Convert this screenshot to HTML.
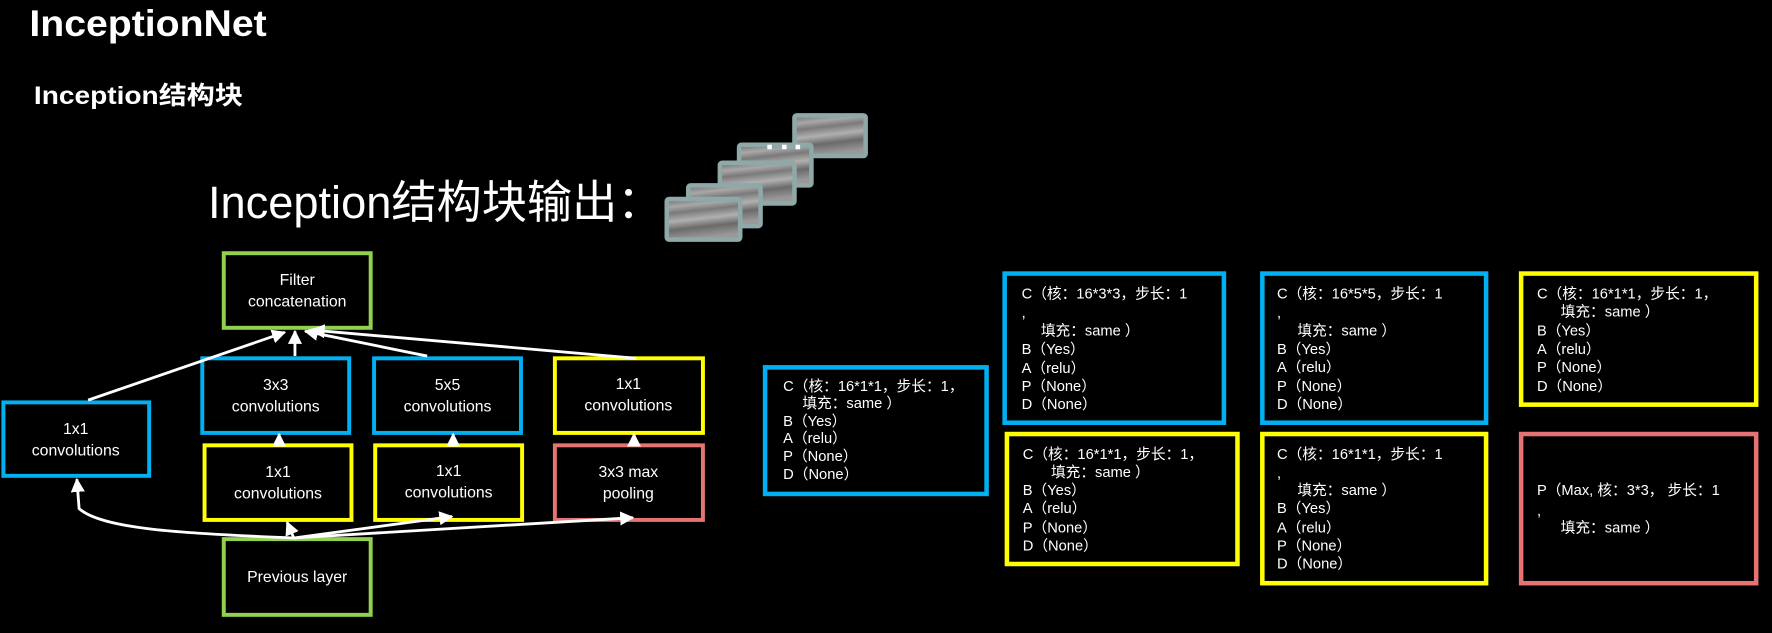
<!DOCTYPE html>
<html><head><meta charset="utf-8"><style>
html,body{margin:0;padding:0;background:#000;}
svg{display:block}
text{font-family:"Liberation Sans","Noto Sans CJK SC",sans-serif;fill:#fff}
</style></head><body>
<svg width="1772" height="633" viewBox="0 0 1568 560" xmlns="http://www.w3.org/2000/svg">
<defs>
<linearGradient id="g" x1="0" y1="0" x2="0.2" y2="1">
<stop offset="0" stop-color="#6e6e6e"/><stop offset="0.2" stop-color="#a8a8a8"/><stop offset="0.35" stop-color="#7a7a7a"/><stop offset="0.55" stop-color="#b0b0b0"/><stop offset="0.75" stop-color="#6a6a6a"/><stop offset="1" stop-color="#999"/>
</linearGradient>
<marker id="ah" viewBox="0 0 10 10" refX="9" refY="5" markerWidth="5" markerHeight="5" orient="auto"><path d="M0,0 L10,5 L0,10 z" fill="#fff"/></marker>
</defs>
<rect width="1568" height="560" fill="#000"/>
<text x="26" y="32" font-size="33" font-weight="bold" textLength="210" lengthAdjust="spacingAndGlyphs">InceptionNet</text>
<text x="30" y="92" font-size="22" font-weight="bold" textLength="185" lengthAdjust="spacingAndGlyphs">Inception结构块</text>
<text x="184" y="193" font-size="40">Inception结构块输出：</text>

<g stroke="#8fa8a8" stroke-width="4" fill="url(#g)">
<rect x="703" y="102" width="63" height="36" rx="2"/>
<rect x="654" y="128" width="64" height="36" rx="2"/>
<rect x="637" y="144" width="66" height="36" rx="2"/>
<rect x="609" y="164" width="64" height="36" rx="2"/>
<rect x="590" y="176" width="65" height="36" rx="2"/>
</g>
<g fill="#fff"><rect x="679" y="128" width="4" height="4"/><rect x="692" y="128" width="4" height="4"/><rect x="704" y="128" width="4" height="4"/></g>

<g fill="none" stroke-width="3.5">
<rect x="198" y="224" width="130" height="66" stroke="#92d050"/>
<rect x="3" y="356" width="129" height="65" stroke="#00b0f0"/>
<rect x="179" y="317" width="130" height="66" stroke="#00b0f0"/>
<rect x="331" y="317" width="130" height="66" stroke="#00b0f0"/>
<rect x="491" y="317" width="131" height="66" stroke="#ffff00"/>
<rect x="181" y="394" width="130" height="66" stroke="#ffff00"/>
<rect x="332" y="394" width="130" height="66" stroke="#ffff00"/>
<rect x="491" y="394" width="131" height="66" stroke="#e57373"/>
<rect x="198" y="477" width="130" height="67" stroke="#92d050"/>
</g>
<g font-size="14" text-anchor="middle">
<text x="263" y="252">Filter</text><text x="263" y="271">concatenation</text>
<text x="67" y="384">1x1</text><text x="67" y="403">convolutions</text>
<text x="244" y="345">3x3</text><text x="244" y="364">convolutions</text>
<text x="396" y="345">5x5</text><text x="396" y="364">convolutions</text>
<text x="556" y="344">1x1</text><text x="556" y="363">convolutions</text>
<text x="246" y="422">1x1</text><text x="246" y="441">convolutions</text>
<text x="397" y="421">1x1</text><text x="397" y="440">convolutions</text>
<text x="556" y="422">3x3 max</text><text x="556" y="441">pooling</text>
<text x="263" y="515">Previous layer</text>
</g>
<g stroke="#fff" stroke-width="2.5" fill="none" marker-end="url(#ah)">
<path d="M78,354 L252,294"/>
<path d="M261,315 L261,293"/>
<path d="M378,315 L270,293"/>
<path d="M563,317 L276,292"/>
<path d="M247,394 L247,384"/>
<path d="M401,394 L401,384"/>
<path d="M561,394 L561,384"/>
<path d="M260,476 C160,472 90,468 70,450 L68,424"/>
<path d="M260,476 L254,462"/>
<path d="M260,476 L400,457"/>
<path d="M260,476 L560,458"/>
</g>

<g fill="none" stroke-width="4">
<rect x="677" y="325" width="196" height="112" stroke="#00b0f0"/>
<rect x="889" y="242" width="194" height="132" stroke="#00b0f0"/>
<rect x="1117" y="242" width="198" height="132" stroke="#00b0f0"/>
<rect x="1346" y="242" width="208" height="116" stroke="#ffff00"/>
<rect x="891" y="384" width="204" height="115" stroke="#ffff00"/>
<rect x="1117" y="384" width="198" height="132" stroke="#ffff00"/>
<rect x="1346" y="384" width="208" height="132" stroke="#e57373"/>
</g>
<g font-size="13">
<text x="693" y="346">C（核：16*1*1，步长：1，</text>
<text x="710" y="361">填充：same ）</text>
<text x="693" y="377">B（Yes）</text><text x="693" y="392">A（relu）</text><text x="693" y="408">P（None）</text><text x="693" y="424">D（None）</text>

<text x="904" y="264">C（核：16*3*3，步长：1</text>
<text x="904" y="281">,</text>
<text x="921" y="297">填充：same ）</text>
<text x="904" y="313">B（Yes）</text><text x="904" y="330">A（relu）</text><text x="904" y="346">P（None）</text><text x="904" y="362">D（None）</text>

<text x="1130" y="264">C（核：16*5*5，步长：1</text>
<text x="1130" y="281">,</text>
<text x="1148" y="297">填充：same ）</text>
<text x="1130" y="313">B（Yes）</text><text x="1130" y="329">A（relu）</text><text x="1130" y="346">P（None）</text><text x="1130" y="362">D（None）</text>

<text x="1360" y="264">C（核：16*1*1，步长：1，</text>
<text x="1381" y="280">填充：same ）</text>
<text x="1360" y="297">B（Yes）</text><text x="1360" y="313">A（relu）</text><text x="1360" y="329">P（None）</text><text x="1360" y="346">D（None）</text>

<text x="905" y="406">C（核：16*1*1，步长：1，</text>
<text x="930" y="422">填充：same ）</text>
<text x="905" y="438">B（Yes）</text><text x="905" y="454">A（relu）</text><text x="905" y="471">P（None）</text><text x="905" y="487">D（None）</text>

<text x="1130" y="406">C（核：16*1*1，步长：1</text>
<text x="1130" y="423">,</text>
<text x="1148" y="438">填充：same ）</text>
<text x="1130" y="454">B（Yes）</text><text x="1130" y="471">A（relu）</text><text x="1130" y="487">P（None）</text><text x="1130" y="503">D（None）</text>

<text x="1360" y="438">P（Max, 核：3*3， 步长：1</text>
<text x="1360" y="456">,</text>
<text x="1381" y="471">填充：same ）</text>
</g>
</svg>
</body></html>
